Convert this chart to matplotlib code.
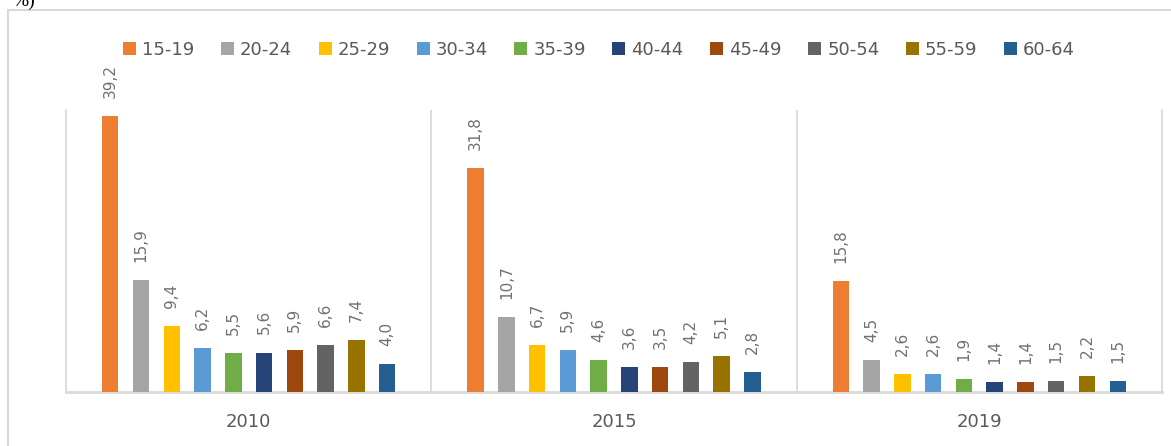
import numpy as np
import matplotlib.pyplot as plt
from matplotlib.patches import Rectangle

years = ['2010', '2015', '2019']
groups = ['15-19', '20-24', '25-29', '30-34', '35-39', '40-44', '45-49', '50-54', '55-59', '60-64']
colors = ['#ED7D31', '#A5A5A5', '#FFC000', '#5B9BD5', '#70AD47',
          '#264478', '#9E480E', '#636363', '#997300', '#255E91']

v2010 = [39.2, 15.9, 9.4, 6.2, 5.5, 5.6, 5.9, 6.6, 7.4, 4.0]
v2015 = [31.8, 10.7, 6.7, 5.9, 4.6, 3.6, 3.5, 4.2, 5.1, 2.8]
v2019 = [15.8, 4.5, 2.6, 2.6, 1.9, 1.4, 1.4, 1.5, 2.2, 1.5]

data = np.array([v2010, v2015, v2019])  # rows: years, cols: age groups

W, H = 1171, 446
fig = plt.figure(figsize=(W / 100, H / 100), dpi=100)
ax = fig.add_axes([66 / W, 1 - 392 / H, (1162 - 66) / W, (392 - 110) / H])

x = np.arange(len(years))
pitch = 0.0842
width = 0.045
for i, g in enumerate(groups):
    xs = x + (i - 4.5) * pitch
    ax.bar(xs, data[:, i], width=width, color=colors[i], label=g, zorder=3)
    for xi, v in zip(xs, data[:, i]):
        ax.annotate(f'{v:.1f}'.replace('.', ','), (xi, v), xytext=(0, 13),
                    textcoords='offset points', ha='center', va='bottom',
                    rotation=90, fontsize=11, color='#707070')

ax.set_xlim(-0.5, 2.5)
ax.set_ylim(0, 40)
ax.set_yticks([])
ax.set_xticks(x, years)
ax.tick_params(axis='x', length=0, pad=15, labelsize=13, labelcolor='#595959')

grid = '#d9d9d9'
ax.spines['top'].set_visible(False)
for s in ['left', 'right']:
    ax.spines[s].set_color(grid)
    ax.spines[s].set_linewidth(1.3)
ax.spines['bottom'].set_color(grid)
ax.spines['bottom'].set_linewidth(2)
for sep in [0.5, 1.5]:
    ax.axvline(sep, color=grid, lw=1.3, zorder=1)

fig.legend(loc='center', bbox_to_anchor=(599 / W, 1 - 50 / H), ncol=10,
           frameon=False, fontsize=13, handlelength=0.72, handleheight=0.72,
           handletextpad=0.33, columnspacing=1.47, labelcolor='#595959')

# outer chart frame
fig.patches.append(Rectangle((8 / W, -0.1), 1.2, 1 - 10 / H + 0.1,
                             transform=fig.transFigure, fill=False,
                             edgecolor=grid, lw=1.5))
# cut-off caption text above the frame (clipped in the original too)
fig.text(12 / W, 1 - 6 / H, '%)', fontsize=14, family='Liberation Serif',
         color='black', ha='left', va='baseline')

fig.savefig('out.png', dpi=100)
